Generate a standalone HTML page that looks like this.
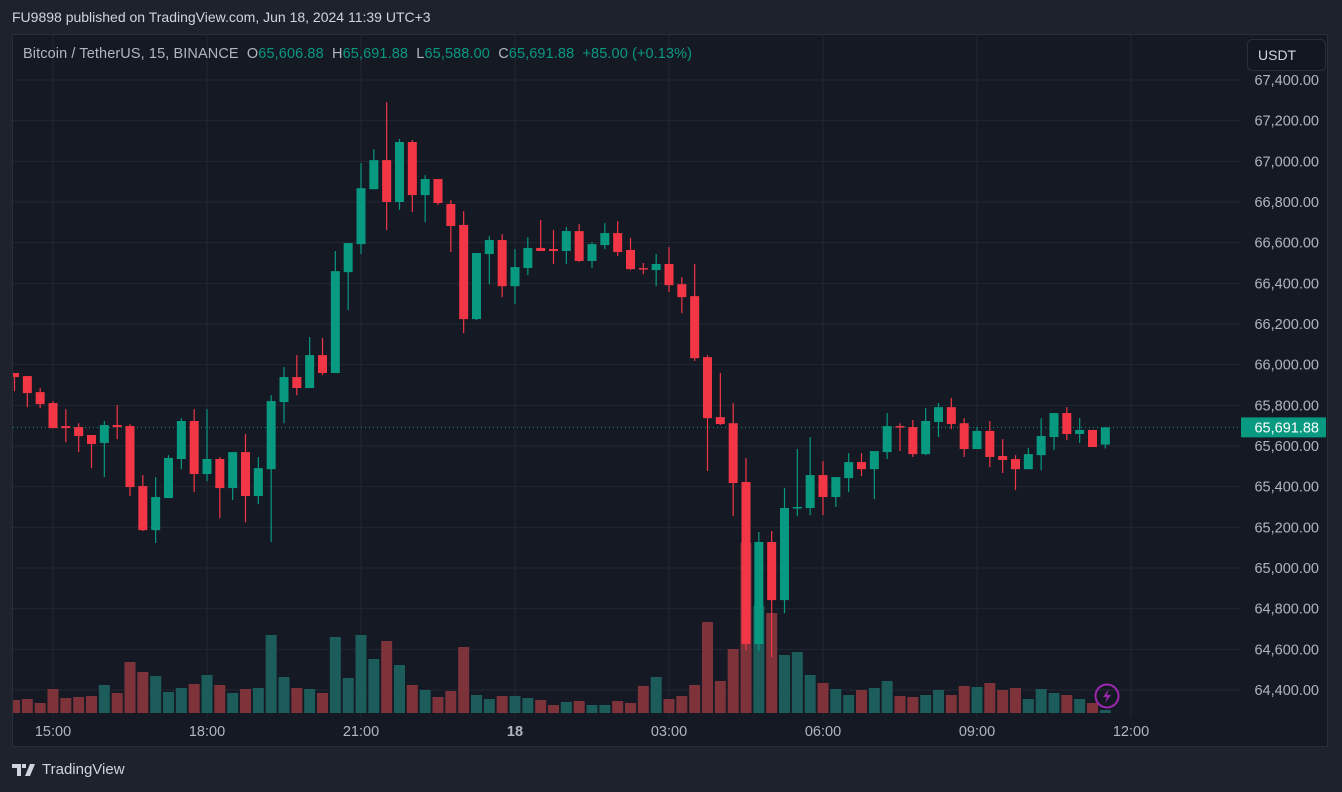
<!DOCTYPE html>
<html><head><meta charset="utf-8">
<style>
html,body{margin:0;padding:0;background:#1e222d;width:1342px;height:792px;overflow:hidden;font-family:"Liberation Sans",sans-serif;}
#hdr{position:absolute;left:12px;top:9px;color:#d1d4dc;font-size:14px;}
#panel{position:absolute;left:12px;top:34px;width:1316px;height:713px;background:#151924;border:1px solid #2a2e39;box-sizing:border-box;}
#logo{position:absolute;left:12px;top:761px;color:#d1d4dc;font-size:15px;display:flex;align-items:center;gap:4px;}
svg{position:absolute;left:0;top:0;}
</style></head><body>
<div id="hdr">FU9898 published on TradingView.com, Jun 18, 2024 11:39 UTC+3</div>
<div id="panel"></div>
<div id="logo"><svg width="26" height="14" style="position:static"><path d="M0 1h9v12H5V5H0z M10 1h4v4h-4z M18 1h5l-5 12h-5z" fill="#d1d4dc"/></svg><span>TradingView</span></div>
<svg id="chart" width="1342" height="792"></svg>
<script>
const opens=[65959,65944,65865,65811,65698,65693,65654,65615,65703,65698,65403,65186,65344,65536,65723,65462,65536,65393,65570,65354,65486,65816,65939,65885,66047,65959,66455,66593,66863,67006,66800,67095,66834,66913,66790,66687,66224,66544,66613,66386,66475,66574,66569,66559,66657,66510,66588,66647,66564,66475,66465,66495,66396,66337,66037,65742,65712,65423,64626,65128,64842,65295,65295,65457,65349,65442,65521,65486,65570,65698,65693,65560,65718,65791,65712,65585,65674,65551,65536,65486,65555,65644,65762,65659,65679,65607];
const highs=[65959,65944,65885,65821,65781,65712,65654,65723,65801,65708,65457,65447,65555,65737,65781,65781,65546,65570,65659,65546,65850,65988,66047,66136,66131,66559,66598,66991,67060,67291,67110,67105,66932,66913,66809,66755,66549,66632,66642,66568,66627,66711,66662,66677,66691,66603,66696,66706,66623,66500,66544,66578,66430,66495,66047,65959,65811,65541,65177,65182,65393,65585,65644,65526,65447,65565,65565,65575,65762,65712,65728,65786,65811,65836,65737,65693,65723,65634,65555,65590,65737,65762,65791,65737,65679,65692];
const lows=[65870,65791,65786,65688,65619,65570,65491,65447,65634,65354,65182,65123,65344,65486,65373,65427,65245,65334,65225,65314,65128,65712,65850,65885,65949,65959,66268,66544,66863,66662,66761,66751,66701,66785,66554,66155,66219,66396,66332,66298,66440,66559,66495,66495,66505,66475,66568,66534,66465,66445,66386,66357,66253,66018,65477,65703,65255,64596,64591,64561,64778,65255,65260,65260,65300,65373,65452,65339,65536,65575,65546,65555,65644,65683,65546,65585,65496,65467,65383,65486,65481,65580,65629,65615,65595,65588];
const closes=[65939,65860,65806,65688,65688,65649,65610,65703,65693,65398,65186,65349,65541,65723,65462,65536,65393,65570,65354,65491,65821,65939,65885,66047,65959,66460,66598,66868,67006,66800,67095,66834,66913,66795,66682,66224,66549,66613,66386,66480,66574,66559,66559,66657,66510,66593,66647,66554,66470,66470,66495,66391,66332,66032,65737,65708,65418,64626,65128,64842,65295,65300,65457,65349,65447,65521,65486,65575,65698,65693,65560,65723,65791,65708,65585,65674,65546,65531,65486,65560,65649,65762,65659,65679,65595,65692];
const volumes=[13,14,10,24,15,16,17,28,20,51,41,37,21,25,29,38,28,20,24,25,78,36,25,24,20,76,35,78,54,72,48,28,23,16,22,66,18,14,17,17,15,13,8,11,12,8,8,12,10,27,36,14,17,28,91,32,64,170,107,100,58,61,38,30,24,18,23,25,32,17,16,18,23,18,27,26,30,23,25,14,24,20,18,14,10,3];
const volColors=['r','r','r','r','r','r','r','g','r','r','r','g','g','g','r','g','r','g','r','g','g','g','r','g','r','g','g','g','g','r','g','r','g','r','r','r','g','g','r','g','g','r','r','g','r','g','g','r','r','r','g','r','r','r','r','r','r','r','g','r','g','g','g','r','g','g','r','g','g','r','r','g','g','r','r','g','r','r','r','g','g','g','r','g','r','g'];
const priceTicks=[67400,67200,67000,66800,66600,66400,66200,66000,65800,65600,65400,65200,65000,64800,64600,64400];
const timeTicks=[{i:0,t:"15:00"},{i:12,t:"18:00"},{i:24,t:"21:00"},{i:36,t:"18",b:1},{i:48,t:"03:00"},{i:60,t:"06:00"},{i:72,t:"09:00"},{i:84,t:"12:00"}];
const startIndex=-3, lastPrice=65691.88;

const NS="http://www.w3.org/2000/svg";
const svg=document.getElementById('chart');
const G='#089981',R='#f23645';
const yP=p=>80+(67400-p)*610/3000;
const xI=i=>53+(i+startIndex)*154/12;
const yV=v=>713-v;
function mk(tag,attrs,parent){const e=document.createElementNS(NS,tag);for(const k in attrs)e.setAttribute(k,attrs[k]);(parent||svg).appendChild(e);return e;}
const defs=mk('defs',{});const cp=mk('clipPath',{id:'pc'},defs);mk('rect',{x:13,y:35,width:1227,height:683},cp);
const grid=mk('g',{});


priceTicks.forEach(p=>{const l=mk('line',{x1:13,x2:1240,y1:yP(p),y2:yP(p),stroke:'#232732','stroke-width':1},grid);

});
timeTicks.forEach(t=>{const x=53+t.i*154/12;const l=mk('line',{x1:x,x2:x,y1:35,y2:718,stroke:'#232732','stroke-width':1},grid);

});
const vg=mk('g',{'clip-path':'url(#pc)'});


volumes.forEach((v,k)=>{const x=xI(k);const r=mk('rect',{x:x-5.5,y:yV(v),width:11,height:v,fill:volColors[k]==='g'?'#1c5c5a':'#7e333a'},vg);

});
const lp=mk('line',{x1:13,x2:1240,y1:yP(lastPrice),y2:yP(lastPrice),stroke:G,'stroke-width':1,'stroke-dasharray':'1 3'});


const cg=mk('g',{'clip-path':'url(#pc)'});


opens.forEach((o,k)=>{const c=closes[k],h=highs[k],l=lows[k];const col=c>o||(c===o&&volColors[k]==='g')?G:R;const x=xI(k);
const g=mk('g',{},cg);


mk('line',{x1:x,x2:x,y1:yP(h),y2:yP(l),stroke:col,'stroke-width':1.2},g);
const t=Math.min(yP(o),yP(c)),bh=Math.max(1.5,Math.abs(yP(o)-yP(c)));
mk('rect',{x:x-4.5,y:t,width:9,height:bh,fill:col},g);});
priceTicks.forEach(p=>{const t=mk('text',{x:1319,y:yP(p)+5,'text-anchor':'end',fill:'#b2b5be','font-size':14.5,'font-family':'Liberation Sans, sans-serif'});t.textContent=p.toLocaleString('en-US',{minimumFractionDigits:2});

});
const lb=mk('g',{});


mk('rect',{x:1241,y:yP(lastPrice)-10,width:85,height:20,fill:G,rx:1},lb);
const lt=mk('text',{x:1319,y:yP(lastPrice)+5,'text-anchor':'end',fill:'#fff','font-size':14.5,'font-family':'Liberation Sans, sans-serif'},lb);lt.textContent=lastPrice.toLocaleString('en-US',{minimumFractionDigits:2});
timeTicks.forEach(t=>{const x=53+t.i*154/12;const e=mk('text',{x:x,y:736,'text-anchor':'middle',fill:'#b2b5be','font-size':14.5,'font-weight':t.b?'bold':'normal','font-family':'Liberation Sans, sans-serif'});e.textContent=t.t;

});
const lg=mk('text',{x:23,y:58,'font-size':14.5,'font-family':'Liberation Sans, sans-serif',fill:'#b2b5be',textLength:669,lengthAdjust:'spacing'});


const parts=[['Bitcoin / TetherUS, 15, BINANCE  ','#b2b5be'],['O','#b2b5be'],['65,606.88  ',G],['H','#b2b5be'],['65,691.88  ',G],['L','#b2b5be'],['65,588.00  ',G],['C','#b2b5be'],['65,691.88  ',G],['+85.00 (+0.13%)',G]];
lg.setAttribute('xml:space','preserve');lg.style.whiteSpace='pre';
parts.forEach(p=>{const s=mk('tspan',{fill:p[1]},lg);s.textContent=p[0];});
const ub=mk('g',{});


mk('rect',{x:1247.5,y:39.5,width:78,height:31,rx:5,fill:'#131722',stroke:'#2a2e39'},ub);
const ut=mk('text',{x:1258,y:60,fill:'#d1d4dc','font-size':14,'font-family':'Liberation Sans, sans-serif'},ub);ut.textContent='USDT';
const li=mk('g',{});


mk('circle',{cx:1107,cy:696,r:11.5,fill:'none',stroke:'#9c27b0','stroke-width':2},li);
mk('path',{d:'M1109 689 L1103 697 L1107 697 L1105 703 L1111 695 L1107 695 Z',fill:'#9c27b0'},li);
</script>
</body></html>
